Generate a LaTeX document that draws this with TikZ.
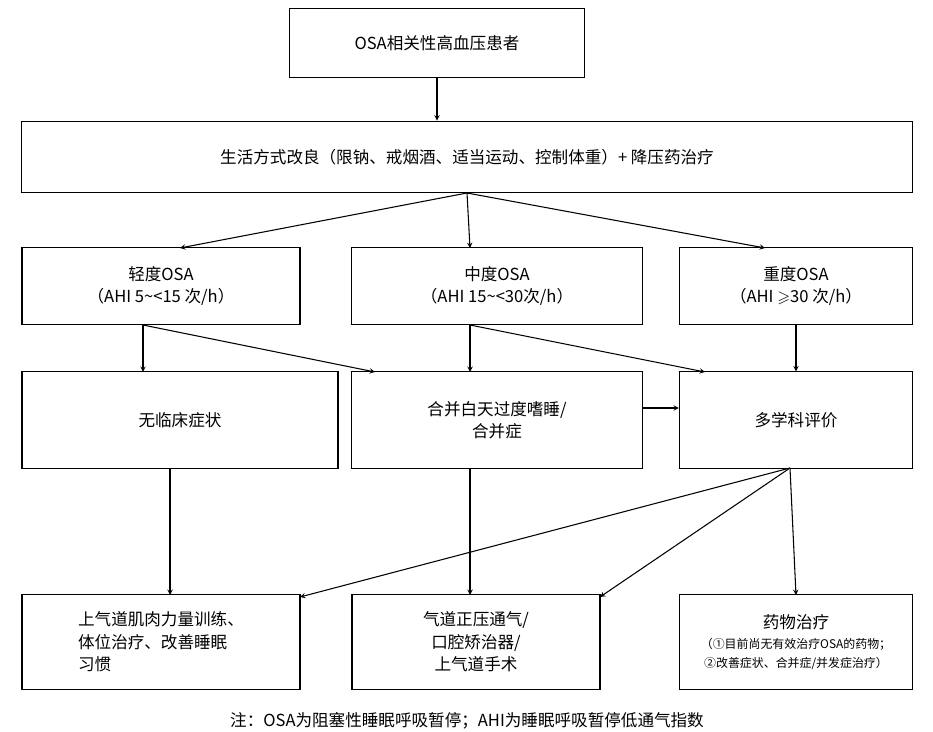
\documentclass[tikz,border=0pt]{standalone}
\usepackage{amssymb}
\usepackage{fontspec}
\setmainfont{Noto Sans CJK SC}
\usetikzlibrary{positioning}
\begin{document}
\begin{tikzpicture}[x=0.0265cm,y=-0.0265cm,
    box/.style={draw,thick,minimum width=#1*0.0265cm,align=center,font=\fontsize{12.5}{17}\selectfont},
    arr/.style={->,>=stealth,thick}]
  \useasboundingbox (0,0) rectangle (933,732);

  % Top rows
  \node[box=295,minimum height=1.85cm] (osa) at (437,43) {OSA相关性高血压患者};
  \node[box=891,minimum height=1.9cm] (life) at (467,157) {生活方式改良（限钠、戒烟酒、适当运动、控制体重）+ 降压药治疗};

  % Severity
  \node[box=278,minimum height=2.05cm] (mild) at (161,286) {轻度OSA\\（AHI 5\textasciitilde<15 次/h）};
  \node[box=291,minimum height=2.05cm] (mod) at (497,286) {中度OSA\\（AHI 15\textasciitilde<30次/h）};
  \node[box=233,minimum height=2.05cm] (sev) at (796,286) {重度OSA\\（AHI $\geqslant$30 次/h）};

  % Symptoms
  \node[box=316,minimum height=2.55cm] (nosym) at (180,420) {无临床症状};
  \node[box=291,minimum height=2.55cm] (comb) at (497,420) {合并白天过度嗜睡/\\合并症};
  \node[box=233,minimum height=2.55cm] (multi) at (796,420) {多学科评价};

  % Treatment
  \node[box=278,minimum height=2.5cm,align=left] (train) at (161,642) {上气道肌肉力量训练、\\体位治疗、改善睡眠\\习惯};
  \node[box=248,minimum height=2.5cm] (cpap) at (476,642) {气道正压通气/\\口腔矫治器/\\上气道手术};
  \node[box=233,minimum height=2.5cm] (drug) at (796,642) {药物治疗\\[-2pt]{\fontsize{9}{12}\selectfont（①目前尚无有效治疗OSA的药物；}\\[-3pt]{\fontsize{9}{12}\selectfont ②改善症状、合并症/并发症治疗）}};

  \node[font=\fontsize{12.5}{15}\selectfont] (note) at (467,721) {注：OSA为阻塞性睡眠呼吸暂停；AHI为睡眠呼吸暂停低通气指数};

  % Connectors
  \coordinate (lifeb) at (467,193);
  \draw[arr] (osa.south) -- (osa.south |- life.north);
  \draw[arr] (lifeb) -- (180,248);
  \draw[arr] (lifeb) -- (470,248);
  \draw[arr] (lifeb) -- (765,248);
  \draw[arr] (143,325) -- (143,372);
  \draw[arr] (143,325) -- (375,372);
  \draw[arr] (470,325) -- (470,372);
  \draw[arr] (470,325) -- (705,372);
  \draw[arr] (sev) -- (multi);
  \draw[arr] (comb.east |- 0,408) -- (multi.west |- 0,408);
  \draw[arr] (170,468) -- (170,595);
  \draw[arr] (470,468) -- (470,595);
  \draw[arr] (790,468) -- (300,597);
  \draw[arr] (790,468) -- (600,597);
  \draw[arr] (790,468) -- (796,595);
\end{tikzpicture}
\end{document}
